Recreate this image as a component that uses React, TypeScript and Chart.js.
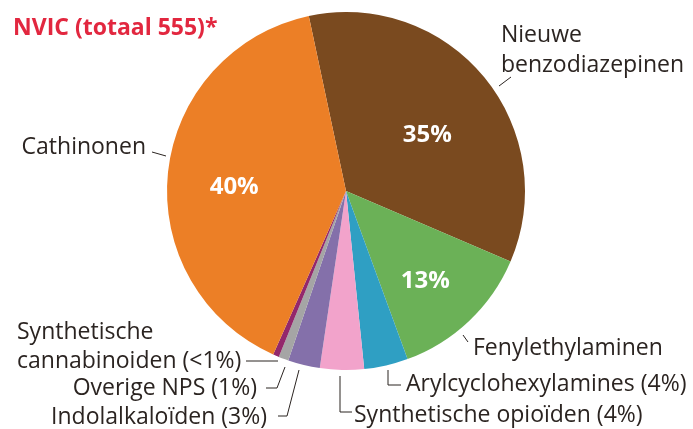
import React, { useEffect, useRef } from "react";
import { Chart, registerables } from "chart.js";

Chart.register(...registerables);

// ---- data ----
const title = "NVIC (totaal 555)*";
const categories = [
  "Nieuwe\nbenzodiazepinen",
  "Fenylethylaminen",
  "Arylcyclohexylamines",
  "Synthetische opioïden",
  "Indolalkaloïden",
  "Overige NPS",
  "Synthetische\ncannabinoiden",
  "Cathinonen",
];
const counts = [193, 72, 22, 22, 16, 5, 3, 222];
const shareLabels = ["35%", "13%", "4%", "4%", "3%", "1%", "<1%", "40%"];
const shareInside = [true, true, false, false, false, false, false, true];
const colors = [
  "#7A4A1F",
  "#6BB157",
  "#2F9FC3",
  "#F2A3CB",
  "#8470AA",
  "#A5A5A5",
  "#93286B",
  "#EC7F26",
];

// ---- layout (positions of outside labels & leader lines) ----
type LabelLayout = {
  x: number;
  y: number;
  lineGap: number;
  align: CanvasTextAlign;
  leader: [number, number][];
  insideR?: number;
  insideShift?: number; // degrees
};
const layout: LabelLayout[] = [
  { x: 501, y: 42, lineGap: 30, align: "left", leader: [[499, 86], [511, 77]], insideR: 0.55, insideShift: 5 },
  { x: 473, y: 355, lineGap: 0, align: "left", leader: [[463, 335], [468, 342]], insideR: 0.67, insideShift: 2 },
  { x: 406, y: 391, lineGap: 0, align: "left", leader: [[388, 370], [388, 385], [401, 385]] },
  { x: 354, y: 422, lineGap: 0, align: "left", leader: [[340, 376], [340, 412], [352, 412]] },
  { x: 267, y: 424, lineGap: 0, align: "right", leader: [[299, 370], [287, 416], [278, 416]] },
  { x: 257, y: 395, lineGap: 0, align: "right", leader: [[285, 367], [277, 388], [266, 388]] },
  { x: 17, y: 339, lineGap: 29, align: "left", leader: [[278, 361], [246, 361]] },
  { x: 146, y: 154, lineGap: 0, align: "right", leader: [[152, 152], [166, 156]], insideR: 0.625, insideShift: -4 },
];

const TEXT_COLOR = "#2B2421";
const FONT = "'Open Sans', 'DejaVu Sans', sans-serif";

const labelPlugin = {
  id: "pieLabels",
  afterDraw(chart: any) {
    const ctx: CanvasRenderingContext2D = chart.ctx;
    const arcs = chart.getDatasetMeta(0).data;
    ctx.save();
    // title
    ctx.fillStyle = "#E2273F";
    ctx.font = `bold 23px ${FONT}`;
    ctx.textAlign = "left";
    ctx.textBaseline = "alphabetic";
    ctx.fillText(title, 13, 35);

    categories.forEach((cat, i) => {
      const L = layout[i];
      const arc = arcs[i];
      // inside percentage
      if (shareInside[i] && arc) {
        const mid = (arc.startAngle + arc.endAngle) / 2 + ((L.insideShift || 0) * Math.PI) / 180;
        const r = arc.outerRadius * (L.insideR || 0.6);
        const px = arc.x + Math.cos(mid) * r;
        const py = arc.y + Math.sin(mid) * r;
        ctx.fillStyle = "#FFFFFF";
        ctx.font = `bold 24px ${FONT}`;
        ctx.textAlign = "center";
        ctx.textBaseline = "middle";
        ctx.fillText(shareLabels[i], px, py);
      }
      // outside label
      const lines = cat.split("\n");
      if (!shareInside[i]) lines[lines.length - 1] += ` (${shareLabels[i]})`;
      ctx.fillStyle = TEXT_COLOR;
      ctx.font = `23px ${FONT}`;
      ctx.textAlign = L.align;
      ctx.textBaseline = "alphabetic";
      lines.forEach((ln, k) => ctx.fillText(ln, L.x, L.y + k * L.lineGap));
      // leader
      ctx.strokeStyle = TEXT_COLOR;
      ctx.lineWidth = 1;
      ctx.beginPath();
      L.leader.forEach(([lx, ly], k) => {
        if (k === 0) ctx.moveTo(lx, ly);
        else ctx.lineTo(lx, ly);
      });
      ctx.stroke();
    });
    ctx.restore();
  },
};

export default function App() {
  const ref = useRef<HTMLCanvasElement | null>(null);
  useEffect(() => {
    if (!ref.current) return;
    const chart = new Chart(ref.current, {
      type: "pie",
      data: {
        labels: categories,
        datasets: [
          {
            data: counts,
            backgroundColor: colors,
            borderWidth: 0,
          },
        ],
      },
      options: {
        responsive: false,
        animation: false,
        rotation: -12,
        layout: { padding: { left: 167, right: 168, top: 12, bottom: 59 } },
        plugins: {
          legend: { display: false },
          tooltip: { enabled: false },
          title: { display: false },
        },
      },
      plugins: [labelPlugin],
    });
    return () => chart.destroy();
  }, []);
  return (
    <div style={{ position: "absolute", left: 0, top: 0, width: 693, height: 429, background: "#fff" }}>
      <canvas ref={ref} width={693} height={429} style={{ display: "block" }} />
    </div>
  );
}
